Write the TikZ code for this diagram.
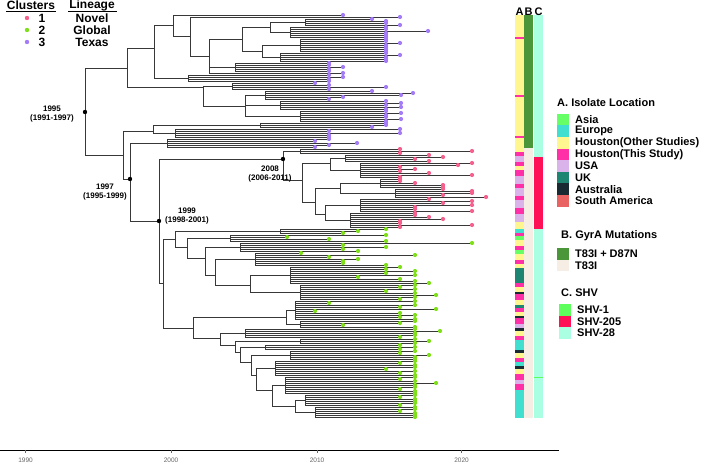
\documentclass[tikz,border=0pt]{standalone}
\usepackage{fontspec}
\setmainfont{Liberation Sans}
\pgfdeclarelayer{dots}
\pgfsetlayers{main,dots}
\definecolor{cP}{HTML}{A47CF7}
\definecolor{cK}{HTML}{F5608C}
\definecolor{cG}{HTML}{7FE01A}
\definecolor{asia}{HTML}{66FF66}
\definecolor{europe}{HTML}{40DFCF}
\definecolor{houO}{HTML}{FFF68F}
\definecolor{houT}{HTML}{FF2FA8}
\definecolor{usa}{HTML}{D9B3EA}
\definecolor{uk}{HTML}{1E8572}
\definecolor{aus}{HTML}{1A2A33}
\definecolor{sam}{HTML}{E96363}
\definecolor{gyrA}{HTML}{4A9638}
\definecolor{gyrB}{HTML}{F6EEE4}
\definecolor{shvA}{HTML}{5CFF5C}
\definecolor{shvB}{HTML}{FF1157}
\definecolor{shvC}{HTML}{AAFFE3}
\tikzset{br/.style={line width=0.6pt,draw=black!78},
  lab/.style={font=\bfseries\fontsize{8}{9}\selectfont,align=center,inner sep=0pt},
  leg/.style={font=\bfseries\fontsize{11}{12}\selectfont,anchor=west,inner sep=0pt},
  tl/.style={font=\bfseries\fontsize{12}{12}\selectfont,inner sep=0pt}}
\newcommand\VL[3]{\draw[br] (#1,#2)--(#1,#3);}
\newcommand\HL[3]{\draw[br] (#1,#3)--(#2,#3);}
\newcommand\TP[4]{\draw[br] (#1,#2)--(#3,#2);\begin{pgfonlayer}{dots}\fill[#4] (#3,#2) circle[radius=2.1pt];\end{pgfonlayer}}
\newcommand\SV[5]{%
 \foreach \X [count=\i] in {#4}{\xdef\svn{\i}}%
 \pgfmathsetmacro\svb{#3+2*(\svn-1)}%
 \pgfmathsetmacro\svm{(#3+\svb)/2}%
 \draw[br] (#1,\svm)--(#2,\svm) (#2,#3)--(#2,\svb);%
 \foreach \X [count=\i] in {#4}{\pgfmathsetmacro\yy{#3+2*(\i-1)}\draw[br] (#2,\yy)--(\X,\yy);}%
 \begin{pgfonlayer}{dots}\foreach \X [count=\i] in {#4}{\pgfmathsetmacro\yy{#3+2*(\i-1)}\fill[#5] (\X,\yy) circle[radius=2.1pt];}\end{pgfonlayer}%
}
\begin{document}
\begin{tikzpicture}[x=1pt,y=-1pt]
\useasboundingbox (0,0) rectangle (714,466);
\fill[white] (0,0) rectangle (714,466);
% ---------- top-left legend
\node[tl] (hc) at (31,5) {Clusters};
\node[tl] (hl) at (92,5) {Lineage};
\draw[line width=0.8pt] (6,11.5)--(56,11.5) (68,11.5)--(117,11.5);
\foreach \c/\n/\w/\y in {cK/1/Novel/18,cG/2/Global/30,cP/3/Texas/42}{
  \fill[\c] (27,\y) circle[radius=2.2pt];
  \node[tl] at (42,\y) {\n};
  \node[tl] at (92,\y) {\w};
}
% ---------- tree: Texas
\TP{173}{15}{343}{cP}
\TP{190}{17}{400}{cP}
\SV{270}{305}{19}{372,386,386,400}{cP}
\SV{270}{290}{27}{386,386,428,386,386,386}{cP}
\VL{270}{22}{32}
\SV{262}{300}{39}{386,386,400,386,386,386,386}{cP}
\SV{262}{280}{53}{386,400,386,386,386}{cP}
\VL{262}{45}{57}
\HL{242}{270}{27}\HL{242}{262}{51}\VL{242}{27}{51}\HL{209}{242}{39}
\SV{209}{235}{63}{329,329,343,329,329}{cP}
\TP{209}{73}{343}{cP}
\VL{209}{39}{73}\HL{190}{209}{56}\VL{190}{17}{56}
\HL{173}{190}{36}\VL{173}{15}{36}
\HL{154}{173}{25}\VL{154}{25}{78}
\SV{154}{188}{75}{329,343,329,329}{cP}
\HL{127}{154}{48}\VL{127}{48}{87}
\SV{203}{232}{83}{315,329,386,329}{cP}
\SV{245}{265}{91}{372,413,401,343,329}{cP}
\SV{245}{280}{101}{386,401,386,401,386}{cP}
\SV{245}{300}{111}{386,401,386,386,401,386}{cP}
\VL{245}{95}{116}\HL{203}{245}{106}
\VL{203}{86}{106}\HL{127}{203}{87}
\VL{85}{68}{155}\HL{85}{127}{68}
\HL{85}{123}{155}\VL{123}{131}{179}
\SV{153}{260}{123}{386,386,372}{cP}
\SV{153}{175}{129}{400,329,400,329,329}{cP}
\VL{153}{125}{133}\HL{123}{153}{131}
\HL{123}{130}{179}\VL{130}{143}{221}
\SV{130}{167}{139}{329,315,357,329,315}{cP}
\HL{130}{159}{221}\VL{159}{159}{283}
% ---------- Novel
\HL{159}{283}{159}\VL{283}{151}{180}
\SV{283}{300}{149}{400,472,400}{cK}
\HL{283}{302}{180}\VL{302}{163}{202}
\SV{330}{345}{155}{429,443,415,429}{cK}
\SV{330}{360}{163}{472,458,400,415,400,429,472,400}{cK}
\VL{330}{158}{170}\HL{302}{330}{163}
\HL{302}{315}{202}\VL{315}{188}{214}
\SV{340}{380}{179}{400,400,415,443,443}{cK}
\SV{340}{395}{189}{443,472,472,443,486}{cK}
\VL{340}{183}{193}\HL{315}{340}{188}
\SV{325}{360}{199}{429,472,443,472,415,415,472}{cK}
\SV{325}{350}{213}{415,415,429,443,400,400,472,400}{cK}
\VL{325}{205}{220}\HL{315}{325}{214}
% ---------- Global
\HL{159}{163}{283}\VL{163}{239}{328}
\HL{163}{175}{239}\VL{175}{231}{247}
\SV{175}{280}{229}{386,358,343}{cG}
\HL{175}{187}{247}\VL{187}{238}{258}
\SV{187}{230}{235}{386,287,329,386}{cG}
\HL{187}{205}{258}\VL{205}{247}{275}
\SV{205}{240}{243}{472,343,386,343,358}{cG}
\HL{205}{215}{275}\VL{215}{259}{285}
\SV{215}{255}{253}{301,415,329,358,343,343,386}{cG}
\HL{215}{250}{285}\VL{250}{275}{292}
\SV{250}{290}{267}{400,386,415,386,415,358,400,415,429}{cG}
\SV{250}{300}{285}{415,400,415,386,415,436,415,400}{cG}
\HL{163}{193}{328}\VL{193}{317}{338}
\SV{286}{295}{301}{415,329,415,400,436,315,400,415,400,415}{cG}
\SV{286}{300}{321}{415,400,343,415}{cG}
\VL{286}{310}{324}\HL{193}{286}{317}
\HL{193}{220}{338}\VL{220}{333}{345}
\SV{220}{245}{329}{415,440,415,415,400}{cG}
\HL{220}{235}{345}\VL{235}{341}{352}
\SV{235}{300}{339}{415,429,415}{cG}
\HL{235}{240}{352}\VL{240}{347}{362}
\SV{240}{265}{345}{400,415,400}{cG}
\HL{240}{251}{362}\VL{251}{355}{375}
\SV{251}{290}{351}{415,400,429,415,415}{cG}
\HL{251}{256}{375}\VL{256}{368}{390}
\SV{256}{275}{361}{415,400,415,415,386,415,400,415}{cG}
\HL{256}{272}{390}\VL{272}{385}{406}
\SV{272}{285}{377}{415,400,415,436,415,415,400,415,415}{cG}
\HL{272}{295}{406}\VL{295}{400}{412}
\SV{295}{305}{395}{415,400,415,415,415,400}{cG}
\SV{295}{315}{407}{415,415,400,415,415,415}{cG}
% ---------- labelled nodes
\fill (85,112) circle[radius=2.2pt] (130,179) circle[radius=2.2pt] (159,221) circle[radius=2.2pt] (283,159) circle[radius=2.2pt];
\node[lab] (n1995) at (52,114) {1995\\(1991-1997)};
\node[lab] (n1997) at (105,192) {1997\\(1995-1999)};
\node[lab] (n1999) at (187,216) {1999\\(1998-2001)};
\node[lab] (n2008) at (270,174) {2008\\(2006-2011)};
% ---------- strips
\fill[houO] (515,15) rectangle (524,148);
\foreach \y in {37,95,136}{\fill[houT] (515,\y) rectangle (524,\y+2);}
\foreach \a/\b/\c in {148/152/houO,152/156/houT,156/162/usa,162/166/houT,166/170/houO,170/176/houT,176/184/usa,184/188/houT,188/196/usa,196/200/houT,200/208/usa,208/214/houT,214/222/usa,222/229/houO,
229/233/europe,233/236/houT,236/240/asia,240/246/houO,246/250/houT,250/254/asia,254/260/houO,260/264/houT,264/268/houO,268/283/uk,283/287/houT,287/292/houO,292/294/aus,294/300/houT,300/305/houO,305/308/uk,308/312/houT,312/316/houO,316/318/aus,318/324/houT,324/328/usa,328/331/aus,331/336/houO,336/340/houT,340/350/europe,350/353/aus,353/358/houO,358/362/houT,362/366/europe,366/369/aus,369/374/houO,374/380/houT,380/384/usa,384/390/houT,390/418/europe}
  {\fill[\c] (515,\a) rectangle (524,\b);}
\fill[gyrA] (524,15) rectangle (533,148);
\fill[gyrB] (524,148) rectangle (533,418);
\fill[shvC] (534,15) rectangle (543,418);
\fill[shvB] (534,157) rectangle (543,229);
\fill[shvA] (534,376.5) rectangle (543,377.5);
\node[leg,anchor=center] (hA) at (519.5,12) {A};
\node[leg,anchor=center] (hB) at (528.5,12) {B};
\node[leg,anchor=center] (hC) at (538.5,12) {C};
% ---------- right legend
\node[leg] (tA) at (557,103) {A. Isolate Location};
\foreach \c/\t [count=\i] in {asia/Asia,europe/Europe,houO/Houston(Other Studies),houT/Houston(This Study),usa/USA,uk/UK,aus/Australia,sam/South America}{
  \pgfmathsetmacro\yy{119.5+11.6*(\i-1)}
  \fill[\c] (557,\yy-5.8) rectangle (569,\yy+5.8);
  \node[leg] at (575,\yy) {\t};
}
\node[leg] (tB) at (561,236) {B. GyrA Mutations};
\fill[gyrA] (557,248) rectangle (569,259.6);
\fill[gyrB] (557,259.6) rectangle (569,271.2);
\node[leg] at (575,253.8) {T83I + D87N};
\node[leg] at (575,265.4) {T83I};
\node[leg] (tC) at (561,293) {C. SHV};
\fill[shvA] (559,304) rectangle (571,315.6);
\fill[shvB] (559,315.6) rectangle (571,327.2);
\fill[shvC] (559,327.2) rectangle (571,338.8);
\node[leg] at (577,309.8) {SHV-1};
\node[leg] at (577,321.4) {SHV-205};
\node[leg] at (577,333) {SHV-28};
% ---------- axis
\draw[line width=0.9pt] (0,450)--(559,450);
\foreach \yr/\x in {1990/25.6,2000/171,2010/317,2020/461.5}{
  \draw[line width=0.5pt,black!60] (\x,450)--(\x,453);
  \node[font=\fontsize{6.5}{7}\selectfont,text=black!60,inner sep=0pt] at (\x,460) {\yr};
}
\end{tikzpicture}
\end{document}
